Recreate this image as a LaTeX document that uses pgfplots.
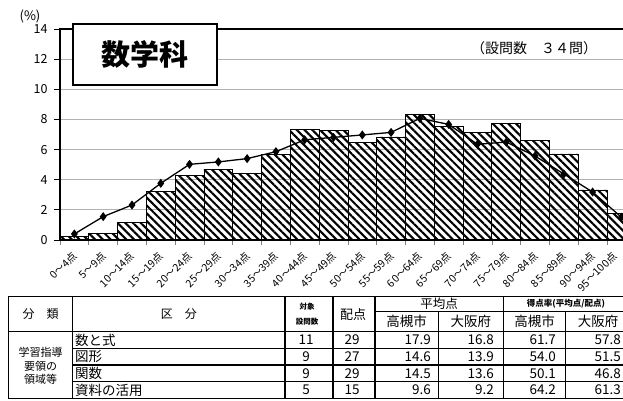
\documentclass[border=0pt]{standalone}
\usepackage{fontspec}
\setmainfont{Noto Sans CJK JP}
\usepackage{pgfplots}
\usepackage{pgfplotstable}
\pgfplotsset{compat=1.18}
\usetikzlibrary{patterns.meta}
\pgfplotstableread{
x bar line
0.5 0.22 0.40
1.5 0.44 1.55
2.5 1.17 2.32
3.5 3.23 3.76
4.5 4.29 5.02
5.5 4.69 5.18
6.5 4.40 5.40
7.5 5.69 5.86
8.5 7.32 6.65
9.5 7.28 6.81
10.5 6.46 6.97
11.5 6.84 7.14
12.5 8.34 8.07
13.5 7.56 7.67
14.5 7.14 6.35
15.5 7.72 6.50
16.5 6.61 5.57
17.5 5.71 4.38
18.5 3.32 3.18
19.5 1.77 1.51
}\datatable
\newcommand{\fs}[1]{\fontsize{#1}{#1}\selectfont}
\begin{document}
\begin{tikzpicture}[x=1pt,y=1pt]
\path[use as bounding box] (0,0) rectangle (623,401);
\clip (0,0) rectangle (623,401);
\begin{axis}[
  at={(60pt,161pt)}, anchor=south west,
  scale only axis, width=575.8pt, height=211pt,
  xmin=0, xmax=20, ymin=0, ymax=14,
  ytick={0,2,...,14},
  ymajorgrids, grid style={gray!60, line width=0.8pt},
  xtick={0.5,1.5,...,18.5,19.25},
  xticklabels={0～4点,5～9点,10～14点,15～19点,20～24点,25～29点,30～34点,35～39点,40～44点,45～49点,50～54点,55～59点,60～64点,65～69点,70～74点,75～79点,80～84点,85～89点,90～94点,95～100点},
  minor xtick={0,1,...,20},
  tick align=outside, tick pos=left,
  major x tick style={draw=none},
  minor tick length=5pt, major tick length=6pt,
  minor x tick style={gray, line width=0.6pt},
  y tick style={black, line width=0.8pt},
  axis line style={black, line width=1.2pt},
  /pgf/number format/assume math mode=true,
  yticklabel style={font=\fs{12.5}, xshift=-3pt},
  xticklabel style={rotate=45, anchor=north east, font=\fs{10.5}, inner sep=1pt, xshift=-4pt},
]
\addplot[ybar, bar width=1, draw=black, line width=0.8pt, pattern={Lines[angle=-45,distance=5.5pt,line width=2.1pt]}] table[x=x,y=bar] {\datatable};
\addplot[black, line width=1.3pt, mark=diamond*, mark size=3.5pt] table[x=x,y=line] {\datatable};
\end{axis}
\node[draw=black, line width=1.8pt, fill=white, minimum width=144pt, minimum height=60.7pt, inner sep=0pt, font=\fs{29}\bfseries] at (144.7,346.3) {数学科};
\node[font=\fs{14}] at (534,353) {（設問数　３４問）};
\node[font=\fs{13}] at (30,385) {(\%)};
% table
\begin{scope}[line width=1.1pt]
\draw (8.3,104.3) -- (640,104.3);
\draw (375,89.3) -- (640,89.3);
\draw (8.3,69.3) -- (640,69.3);
\draw (72.7,52.7) -- (640,52.7);
\draw (72.7,36.0) -- (640,36.0);
\draw (72.7,19.3) -- (640,19.3);
\draw (8.3,2.7) -- (640,2.7);
\foreach \xx in {8.3,72.7,285,333,375,503.3} {\draw (\xx,2.7) -- (\xx,104.3);}
\foreach \xx in {438.3,565.7} {\draw (\xx,2.7) -- (\xx,89.3);}
\end{scope}
\node[font=\fs{12}] at (40.5,86.8) {分　類};
\node[font=\fs{12}] at (178.9,86.8) {区　分};
\node[font=\fs{7.5}\bfseries] at (307,94.5) {対象};
\node[font=\fs{7.5}\bfseries] at (307,79.5) {設問数};
\node[font=\fs{13}] at (353,86) {配点};
\node[font=\fs{12.5}] at (439,96.8) {平均点};
\node[font=\fs{8.5}\bfseries] at (566,97) {得点率(平均点/配点)};
\foreach \xx/\tt in {406.7/高槻市,470.8/大阪府,534.5/高槻市,598/大阪府} {\node[font=\fs{13.5}] at (\xx,79.3) {\tt};}
\node[font=\fs{11}] at (40.5,48.5) {学習指導};
\node[font=\fs{11}] at (40.5,35) {要領の};
\node[font=\fs{11}] at (40.5,21.5) {領域等};
\foreach \yy/\lab/\n/\p/\a/\b/\c/\d in {61/数と式/11/29/17.9/16.8/61.7/57.8, 44.3/図形/9/27/14.6/13.9/54.0/51.5, 27.7/関数/9/29/14.5/13.6/50.1/46.8, 11/資料の活用/5/15/9.6/9.2/64.2/61.3} {
  \node[font=\fs{13.5}, anchor=west, inner sep=1pt] at (74,\yy) {\lab};
  \node[font=\fs{13.5}] at (306,\yy) {\n};
  \node[font=\fs{13.5}] at (352,\yy) {\p};
  \node[font=\fs{13.5}, anchor=east, inner sep=0pt] at (431,\yy) {\a};
  \node[font=\fs{13.5}, anchor=east, inner sep=0pt] at (494,\yy) {\b};
  \node[font=\fs{13.5}, anchor=east, inner sep=0pt] at (556,\yy) {\c};
  \node[font=\fs{13.5}, anchor=east, inner sep=0pt] at (621,\yy) {\d};
}
\end{tikzpicture}
\end{document}
